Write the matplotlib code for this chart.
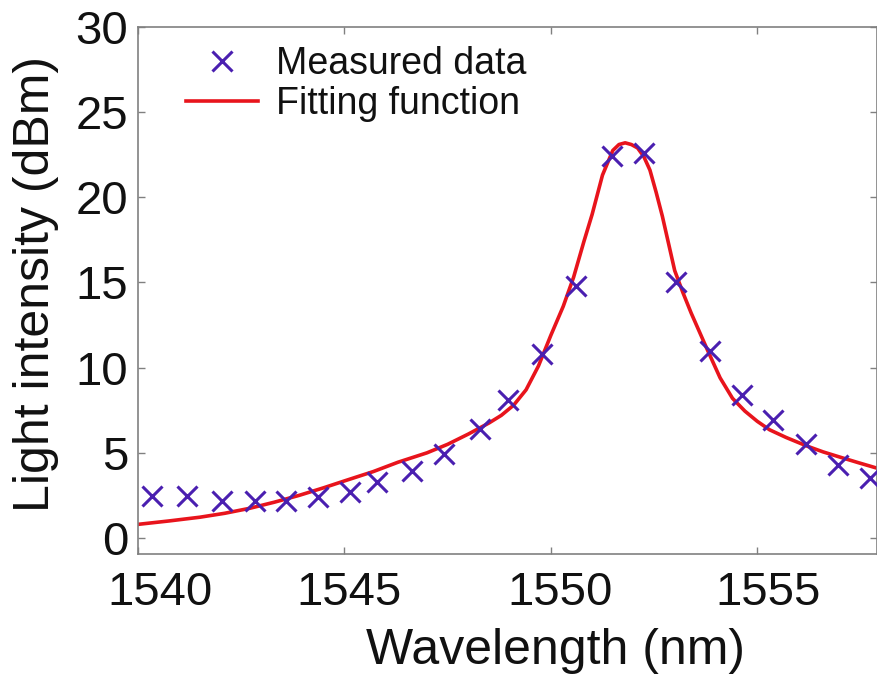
import matplotlib
matplotlib.use("Agg")
import matplotlib.pyplot as plt
import matplotlib.transforms as mtransforms

plt.rcParams['font.family'] = ['Liberation Sans', 'DejaVu Sans']

meas_wl = [1540.34, 1541.19, 1542.03, 1542.83, 1543.58, 1544.36, 1545.13, 1545.79,
           1546.63, 1547.41, 1548.28, 1548.96, 1549.78, 1550.61, 1551.48, 1552.25,
           1553.03, 1553.85, 1554.62, 1555.38, 1556.17, 1556.95, 1557.72]
meas_db = [2.44, 2.44, 2.2, 2.2, 2.2, 2.4, 2.7, 3.3,
           3.95, 4.95, 6.4, 8.1, 10.8, 14.8, 22.4, 22.6,
           15.0, 11.0, 8.4, 6.9, 5.5, 4.3, 3.5]

# Fitting function
fit_wl = [1540.0, 1540.75, 1541.5, 1542.1, 1542.7, 1543.3, 1543.9, 1544.5, 1545.0,
          1545.7, 1546.3, 1547.0, 1547.5, 1548.0, 1548.5, 1548.8, 1549.1, 1549.4, 1549.7,
          1550.0, 1550.3, 1550.55, 1550.8, 1551.0, 1551.25, 1551.5, 1551.65, 1551.8,
          1551.95, 1552.1, 1552.25, 1552.4, 1552.55, 1552.7, 1552.85, 1553.0, 1553.2,
          1553.4, 1553.6, 1553.8, 1554.1, 1554.4, 1554.7, 1555.0, 1555.3, 1555.7,
          1556.2, 1556.6, 1557.0, 1557.45, 1557.9]
fit_db = [0.8, 1.0, 1.22, 1.45, 1.74, 2.1, 2.5, 2.95, 3.35,
          3.9, 4.45, 5.0, 5.5, 6.1, 6.75, 7.2, 7.8, 8.7, 10.1,
          11.9, 13.6, 15.3, 17.4, 19.0, 21.3, 22.75, 23.1, 23.2,
          23.1, 22.9, 22.4, 21.6, 20.3, 18.9, 17.3, 15.7, 14.4,
          13.2, 12.1, 11.0, 9.4, 8.2, 7.45, 6.85, 6.35, 5.9,
          5.4, 5.05, 4.75, 4.42, 4.1]

x_ticks = [1540, 1545, 1550, 1555]
y_ticks = [0, 5, 10, 15, 20, 25, 30]

fig = plt.figure(figsize=(8.78, 6.78), dpi=100)
ax = fig.add_axes([138/878, 1 - 554/678, (877 - 138)/878, (554 - 27)/678])

ax.plot(fit_wl, fit_db, color='#e8141c', lw=2.6, label='Fitting function', zorder=2)
ax.plot(meas_wl, meas_db, linestyle='none', marker='x', markersize=15,
        markeredgewidth=2.2, color='#4a1fb0', label='Measured data', zorder=3)

ax.set_xlim(1540, 1557.9)
ax.set_ylim(-0.94, 30)
ax.set_xticks(x_ticks)
ax.set_yticks(y_ticks)

for s in ax.spines.values():
    s.set_color('#808080')
    s.set_linewidth(1.2)
ax.tick_params(direction='in', length=5, width=1, color='#808080',
               top=True, right=True, labelsize=34, labelcolor='#111111')
ax.tick_params(axis='x', pad=12)
ax.tick_params(axis='y', pad=7)

# small horizontal shifts of x tick labels as in the reference
shifts_px = [22, 5, 9, 11]
for lab, dx in zip(ax.get_xticklabels(), shifts_px):
    lab.set_transform(lab.get_transform() +
                      mtransforms.ScaledTranslation(dx / 100, 0, fig.dpi_scale_trans))

ax.set_xlabel('Wavelength (nm)', fontsize=36, color='#111111')
ax.xaxis.set_label_coords((555 - 138) / 739, -(664 - 554) / 527, transform=ax.transAxes)
ax.xaxis.label.set_va('baseline')
ax.set_ylabel('Light intensity (dBm)', fontsize=36, color='#111111')
ax.yaxis.set_label_coords(-(138 - 36) / 739, (554 - 284) / 527, transform=ax.transAxes)
ax.yaxis.label.set_va('center')

handles, labels = ax.get_legend_handles_labels()
leg = ax.legend(handles[::-1], labels[::-1], loc='upper left',
                bbox_to_anchor=(0.03, 1.013), frameon=False, fontsize=27,
                handlelength=1.9, handletextpad=0.5, labelspacing=0.1,
                borderaxespad=0.3)
for t in leg.get_texts():
    t.set_color('#111111')

fig.savefig('out.png', dpi=100)
